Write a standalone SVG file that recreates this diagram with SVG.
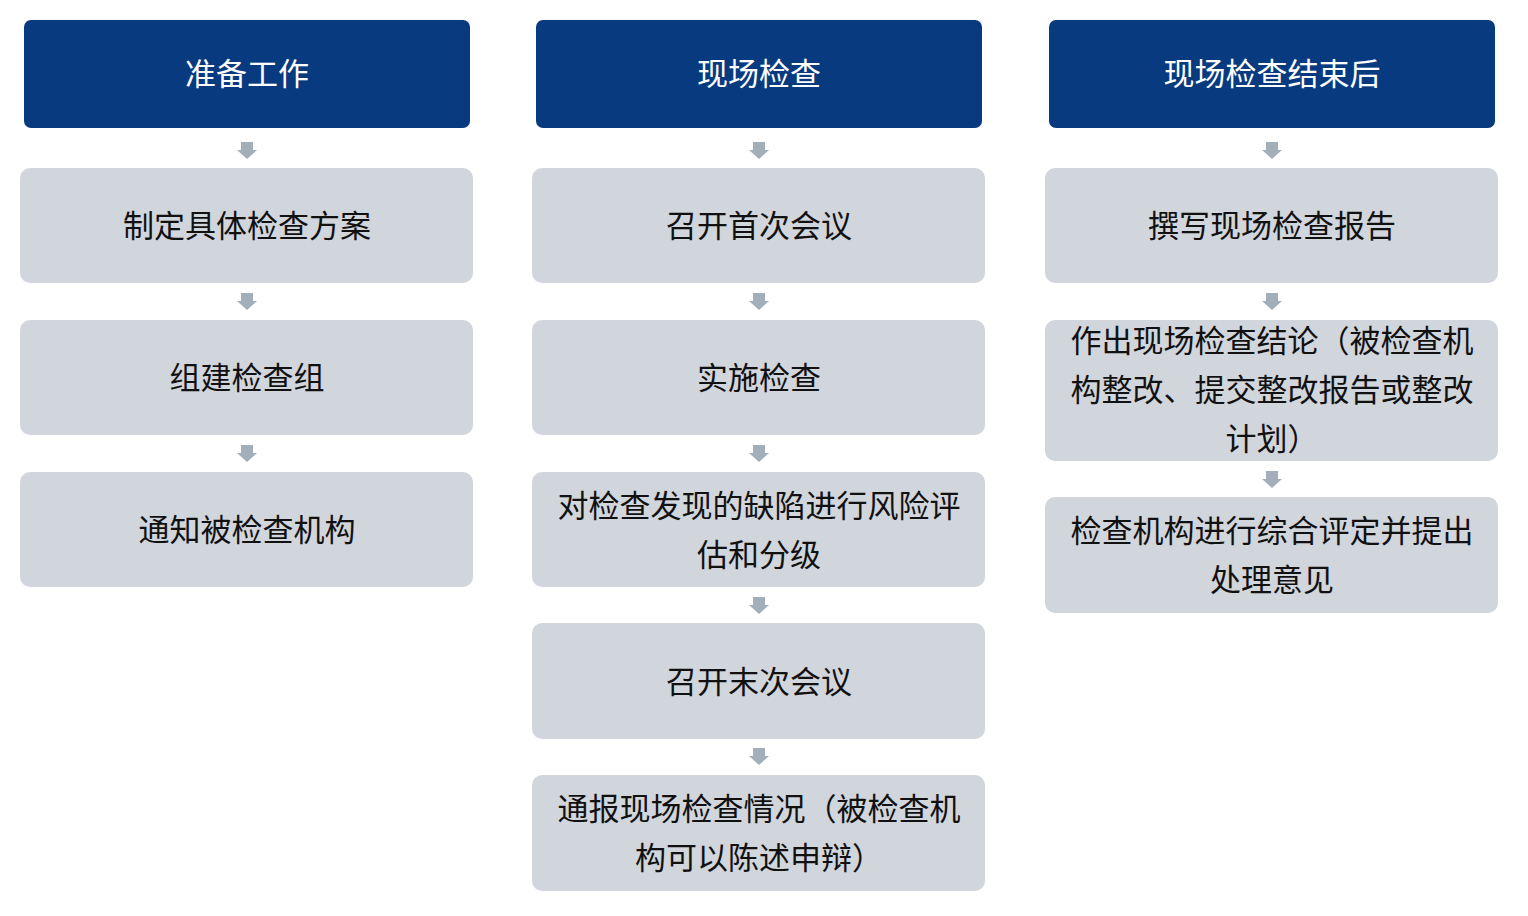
<svg xmlns="http://www.w3.org/2000/svg" width="1528" height="916" viewBox="0 0 1528 916">
<defs>
<style>
.h{fill:#083a80}
.b{fill:#d1d5dc}
.ht{font-family:"Noto Sans CJK SC","Liberation Sans",sans-serif;font-size:31px;fill:#fff;text-anchor:middle}
.t{font-family:"Noto Sans CJK SC","Liberation Sans",sans-serif;font-size:31px;fill:#111;text-anchor:middle}
.a{fill:#a3aebb}
</style>
<path id="ar" d="M-6,-8 H6 V0 H10 L0,9 L-10,0 H-6 Z"/>
</defs>
<rect width="1528" height="916" fill="#fff"/>
<g id="connectors" class="a">
<use href="#ar" x="247" y="150"/><use href="#ar" x="247" y="301"/><use href="#ar" x="247" y="453"/>
<use href="#ar" x="759" y="150"/><use href="#ar" x="759" y="301"/><use href="#ar" x="759" y="453"/><use href="#ar" x="759" y="605"/><use href="#ar" x="759" y="756"/>
<use href="#ar" x="1272" y="150"/><use href="#ar" x="1272" y="301"/><use href="#ar" x="1272" y="479"/>
</g>
<g id="h1"><rect class="h" x="24" y="20" width="446" height="108" rx="7"/><text class="ht" x="247" y="85">准备工作</text></g>
<g id="h2"><rect class="h" x="536" y="20" width="446" height="108" rx="7"/><text class="ht" x="759" y="85">现场检查</text></g>
<g id="h3"><rect class="h" x="1049" y="20" width="446" height="108" rx="7"/><text class="ht" x="1272" y="85">现场检查结束后</text></g>
<g id="a1"><rect class="b" x="20" y="168" width="453" height="115" rx="10"/><text class="t" x="247" y="237">制定具体检查方案</text></g>
<g id="a2"><rect class="b" x="20" y="320" width="453" height="115" rx="10"/><text class="t" x="247" y="389">组建检查组</text></g>
<g id="a3"><rect class="b" x="20" y="472" width="453" height="115" rx="10"/><text class="t" x="247" y="541">通知被检查机构</text></g>
<g id="b1"><rect class="b" x="532" y="168" width="453" height="115" rx="10"/><text class="t" x="759" y="237">召开首次会议</text></g>
<g id="b2"><rect class="b" x="532" y="320" width="453" height="115" rx="10"/><text class="t" x="759" y="389">实施检查</text></g>
<g id="b3"><rect class="b" x="532" y="472" width="453" height="115" rx="10"/><text class="t" x="759" y="517">对检查发现的缺陷进行风险评</text><text class="t" x="759" y="566">估和分级</text></g>
<g id="b4"><rect class="b" x="532" y="623" width="453" height="116" rx="10"/><text class="t" x="759" y="693">召开末次会议</text></g>
<g id="b5"><rect class="b" x="532" y="775" width="453" height="116" rx="10"/><text class="t" x="759" y="820">通报现场检查情况（被检查机</text><text class="t" x="759" y="869">构可以陈述申辩）</text></g>
<g id="c1"><rect class="b" x="1045" y="168" width="453" height="115" rx="10"/><text class="t" x="1272" y="237">撰写现场检查报告</text></g>
<g id="c2"><rect class="b" x="1045" y="320" width="453" height="141" rx="10"/><text class="t" x="1272" y="352">作出现场检查结论（被检查机</text><text class="t" x="1272" y="401">构整改、提交整改报告或整改</text><text class="t" x="1272" y="450">计划）</text></g>
<g id="c3"><rect class="b" x="1045" y="497" width="453" height="116" rx="10"/><text class="t" x="1272" y="542">检查机构进行综合评定并提出</text><text class="t" x="1272" y="591">处理意见</text></g>
</svg>
